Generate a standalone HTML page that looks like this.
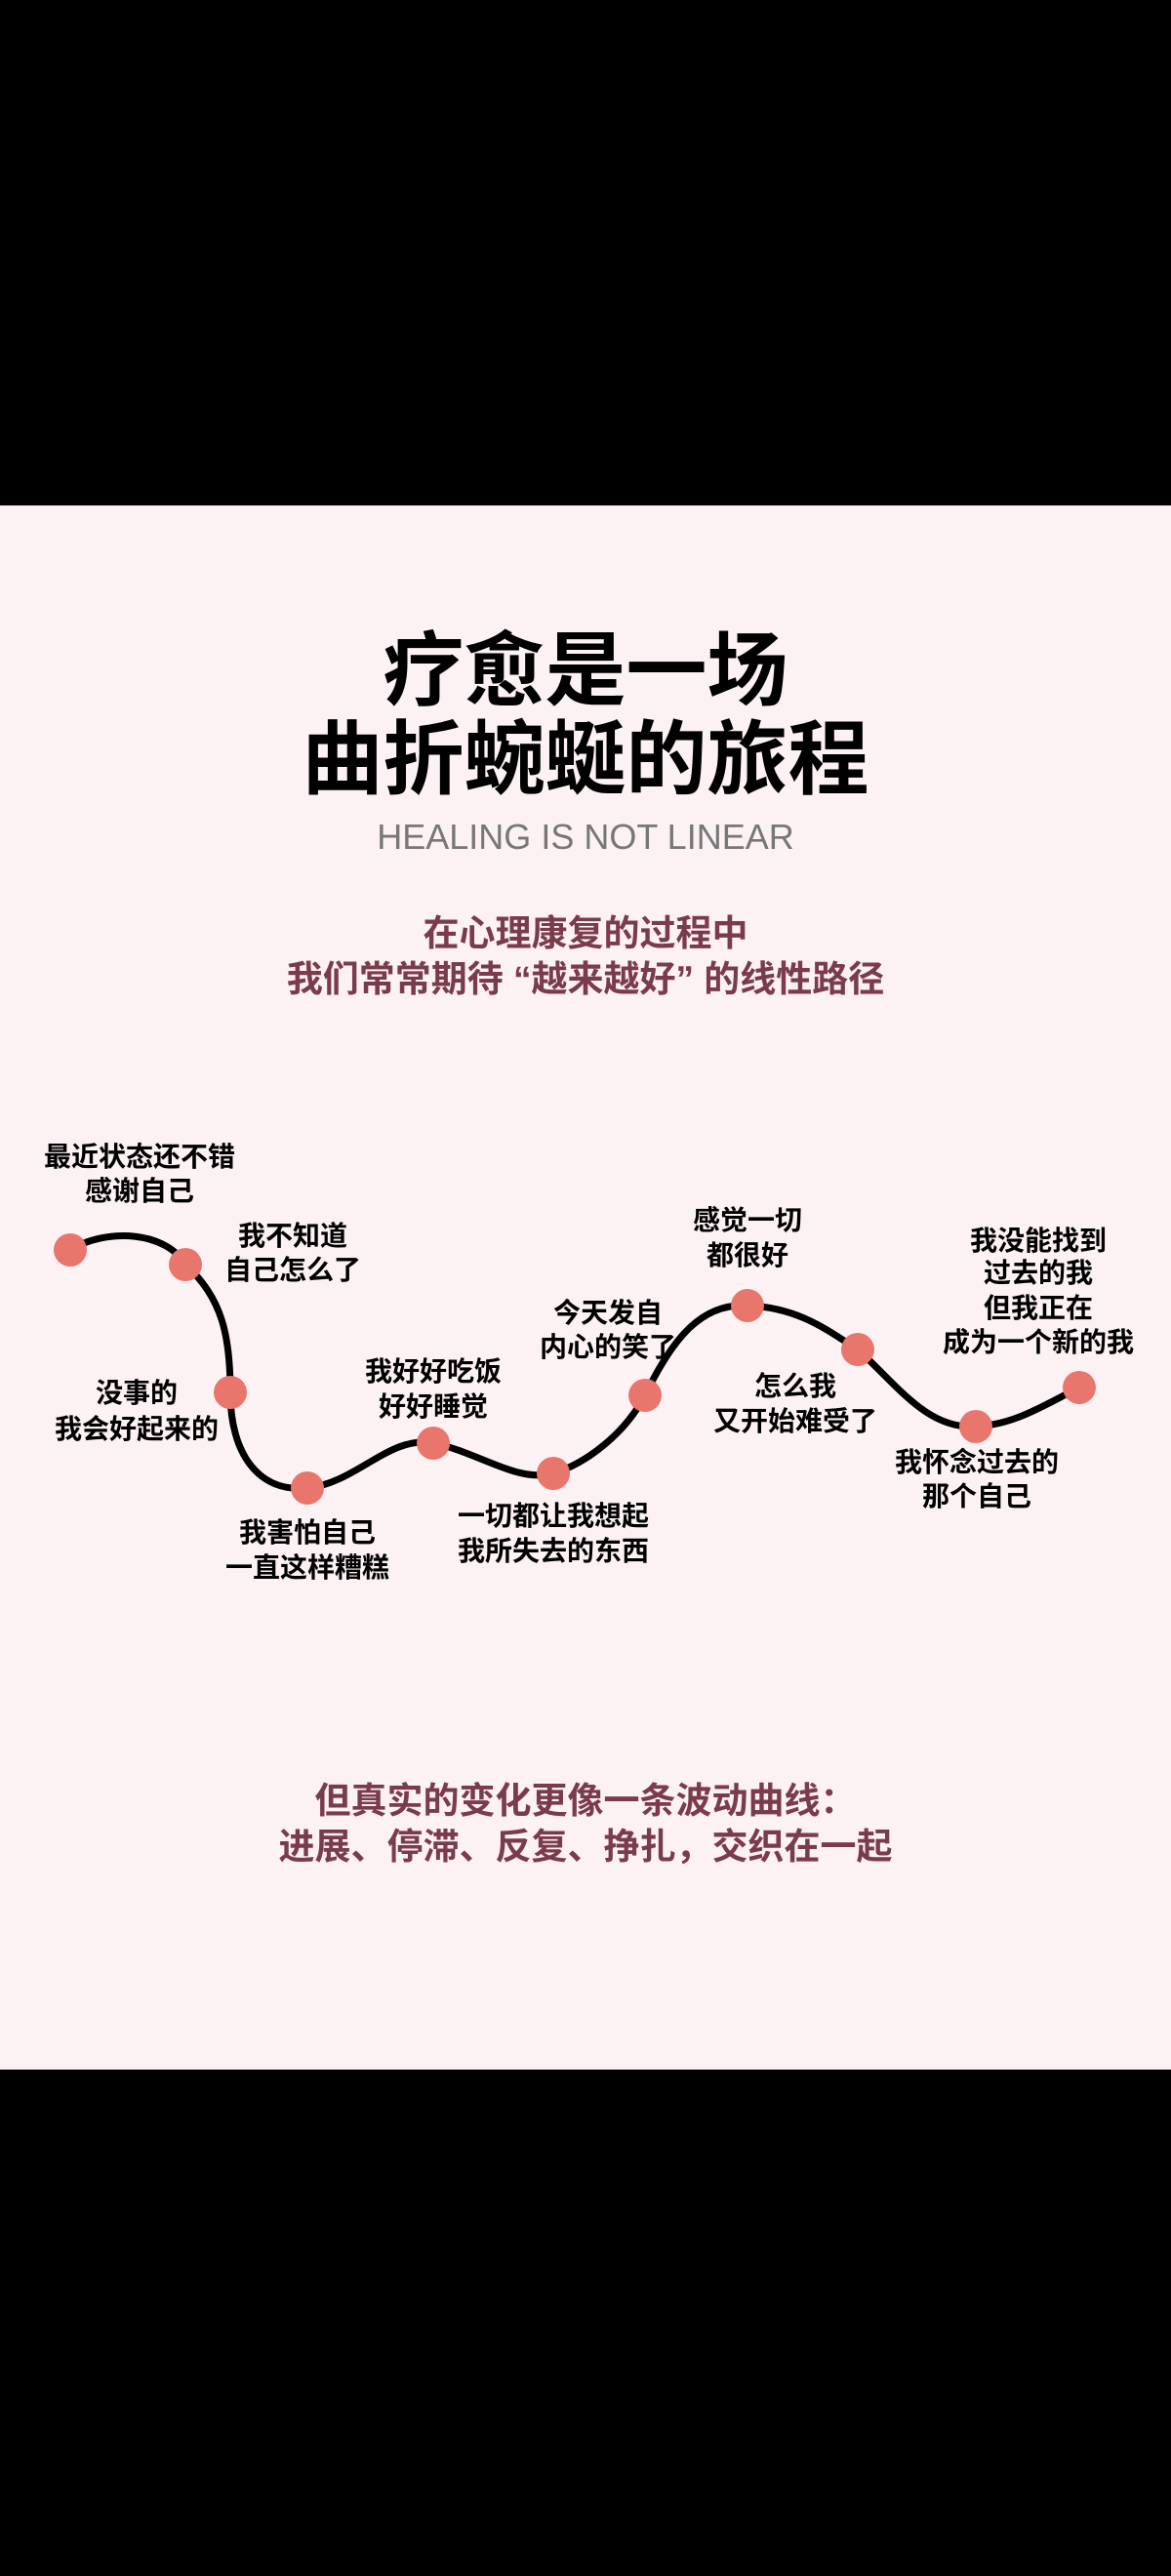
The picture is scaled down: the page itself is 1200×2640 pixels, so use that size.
<!DOCTYPE html>
<html><head><meta charset="utf-8"><style>
html,body{margin:0;padding:0;background:#000;}
body{width:1200px;height:2640px;position:relative;overflow:hidden;font-family:"Liberation Sans","Noto Sans CJK SC",sans-serif;}
#pink{position:absolute;left:0;top:518px;width:1200px;height:1603px;background:#fdf2f3;}
svg{position:absolute;left:0;top:0;}
</style></head><body>
<div id="pink"></div>
<svg width="1200" height="2640" viewBox="0 0 1200 2640" font-family="Liberation Sans, Noto Sans CJK SC, sans-serif">
<g text-anchor="middle">
<text x="600" y="716" font-size="83" font-weight="bold" fill="#000">疗愈是一场</text>
<text x="600" y="807" font-size="83" font-weight="bold" fill="#000">曲折蜿蜒的旅程</text>
<text x="600" y="870" font-size="36" fill="#777">HEALING IS NOT LINEAR</text>
<text x="600" y="969" font-size="37" font-weight="bold" fill="#7a3c4c">在心理康复的过程中</text>
<text x="600" y="1016" font-size="37" font-weight="bold" fill="#7a3c4c">我们常常期待 “越来越好” 的线性路径</text>
<text x="600" y="1858" font-size="37" font-weight="bold" fill="#7a3c4c">但真实的变化更像一条波动曲线：</text>
<text x="600" y="1905" font-size="37" font-weight="bold" fill="#7a3c4c">进展、停滞、反复、挣扎，交织在一起</text>
</g>
<path d="M72 1281 C110 1258,170 1262,190 1296 C228 1330,236 1370,236 1427 C236 1490,265 1530,315 1525 C365 1520,400 1470,444 1479 C490 1488,530 1520,567 1510 C600 1500,640 1470,661 1430 C690 1370,720 1335,766 1338 C820 1340,850 1365,879 1383 C920 1420,950 1465,1000 1462 C1040 1460,1070 1440,1106 1422" fill="none" stroke="#000" stroke-width="7" stroke-linecap="round"/>
<g fill="#e8766c">
<circle cx="72" cy="1281" r="17"/><circle cx="190" cy="1296" r="17"/><circle cx="236" cy="1427" r="17"/>
<circle cx="315" cy="1525" r="17"/><circle cx="444" cy="1479" r="17"/><circle cx="567" cy="1510" r="17"/>
<circle cx="661" cy="1430" r="17"/><circle cx="766" cy="1338" r="17"/><circle cx="879" cy="1383" r="17"/>
<circle cx="1000" cy="1462" r="17"/><circle cx="1106" cy="1422" r="17"/>
</g>
<g text-anchor="middle" font-size="28" font-weight="bold" fill="#000">
<text x="143" y="1195">最近状态还不错</text><text x="143" y="1230">感谢自己</text>
<text x="300" y="1276">我不知道</text><text x="300" y="1311">自己怎么了</text>
<text x="140" y="1437">没事的</text><text x="140" y="1474">我会好起来的</text>
<text x="315" y="1580">我害怕自己</text><text x="315" y="1616">一直这样糟糕</text>
<text x="444" y="1415">我好好吃饭</text><text x="444" y="1451">好好睡觉</text>
<text x="567" y="1563">一切都让我想起</text><text x="567" y="1599">我所失去的东西</text>
<text x="623" y="1355">今天发自</text><text x="623" y="1390">内心的笑了</text>
<text x="766" y="1260">感觉一切</text><text x="766" y="1296">都很好</text>
<text x="815" y="1430">怎么我</text><text x="815" y="1466">又开始难受了</text>
<text x="1001" y="1508">我怀念过去的</text><text x="1001" y="1543">那个自己</text>
<text x="1064" y="1281">我没能找到</text><text x="1064" y="1314">过去的我</text><text x="1064" y="1350">但我正在</text><text x="1064" y="1385">成为一个新的我</text>
</g>
</svg>
</body></html>
